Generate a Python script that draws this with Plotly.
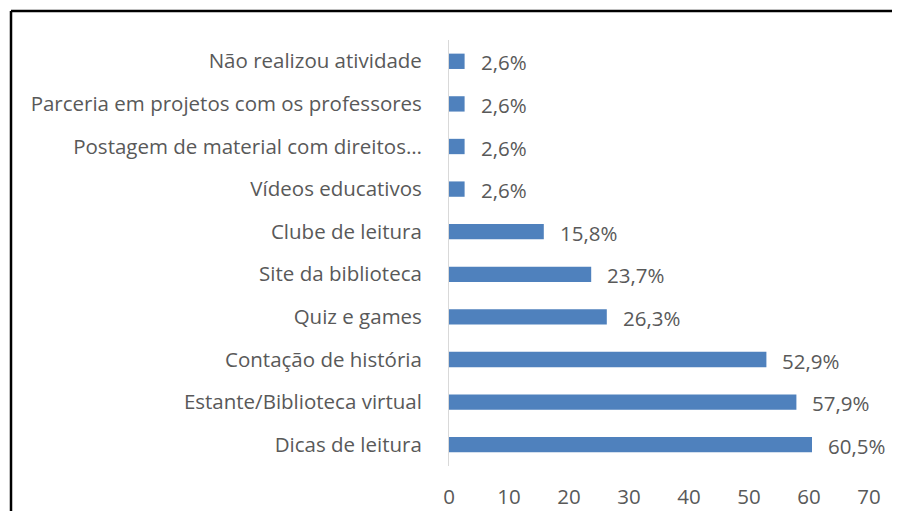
import plotly.graph_objects as go

# categories bottom -> top (as plotted)
categorias = [
    "Dicas de leitura",
    "Estante/Biblioteca virtual",
    "Contação de história",
    "Quiz e games",
    "Site da biblioteca",
    "Clube de leitura",
    "Vídeos educativos",
    "Postagem de material com direitos…",
    "Parceria em projetos com os professores",
    "Não realizou atividade",
]
percentuais = [60.5, 57.9, 52.9, 26.3, 23.7, 15.8, 2.6, 2.6, 2.6, 2.6]
x_ticks = [0, 10, 20, 30, 40, 50, 60, 70]

FONT = "Open Sans"
FS = 20.5
GREY = "#595959"
BAR = "#4F81BD"

# body margin 8px -> figura dimensionada p/ caber exatamente na janela
W, H = 892, 503
L, R, T, B = 441, 31, 32, 45

fig = go.Figure()
fig.add_trace(go.Bar(
    x=percentuais, y=categorias, orientation="h",
    marker=dict(color=BAR, line=dict(width=0)),
    hoverinfo="skip",
))

# rótulos de dados (formato pt-BR com vírgula)
for v, c in zip(percentuais, categorias):
    fig.add_annotation(
        x=v, y=c, text=f"{v:.1f}%".replace(".", ","),
        xanchor="left", yanchor="middle", xshift=14, yshift=-1,
        showarrow=False, font=dict(family=FONT, size=FS, color=GREY),
    )

# moldura do gráfico (só borda esquerda e superior visíveis no recorte)
pw, ph = W - L - R, H - T - B
def px(xp):
    return (xp - L) / pw
def py(yp):
    return (H - B - yp) / ph
fig.add_shape(type="line", xref="paper", yref="paper",
              x0=px(3), x1=px(3), y0=py(H + 10), y1=py(3),
              line=dict(color="black", width=2.5))
fig.add_shape(type="line", xref="paper", yref="paper",
              x0=px(3), x1=px(W + 10), y0=py(3), y1=py(3),
              line=dict(color="black", width=2.5))

fig.update_layout(
    width=W, height=H,
    margin=dict(l=L, r=R, t=T, b=B),
    paper_bgcolor="white", plot_bgcolor="white",
    bargap=0.64, showlegend=False,
    font=dict(family=FONT, size=FS, color=GREY),
    xaxis=dict(range=[0, 70], tickvals=x_ticks, showgrid=False,
               zeroline=False, showline=False, ticks="", automargin=False,
               ticklabelstandoff=16, tickfont=dict(size=FS, color=GREY)),
    yaxis=dict(showgrid=False, zeroline=False, showline=True,
               linecolor="#D9D9D9", linewidth=1, ticks="", automargin=False,
               ticklabelstandoff=22, tickfont=dict(size=FS, color=GREY)),
)

fig.write_html("out.html")
